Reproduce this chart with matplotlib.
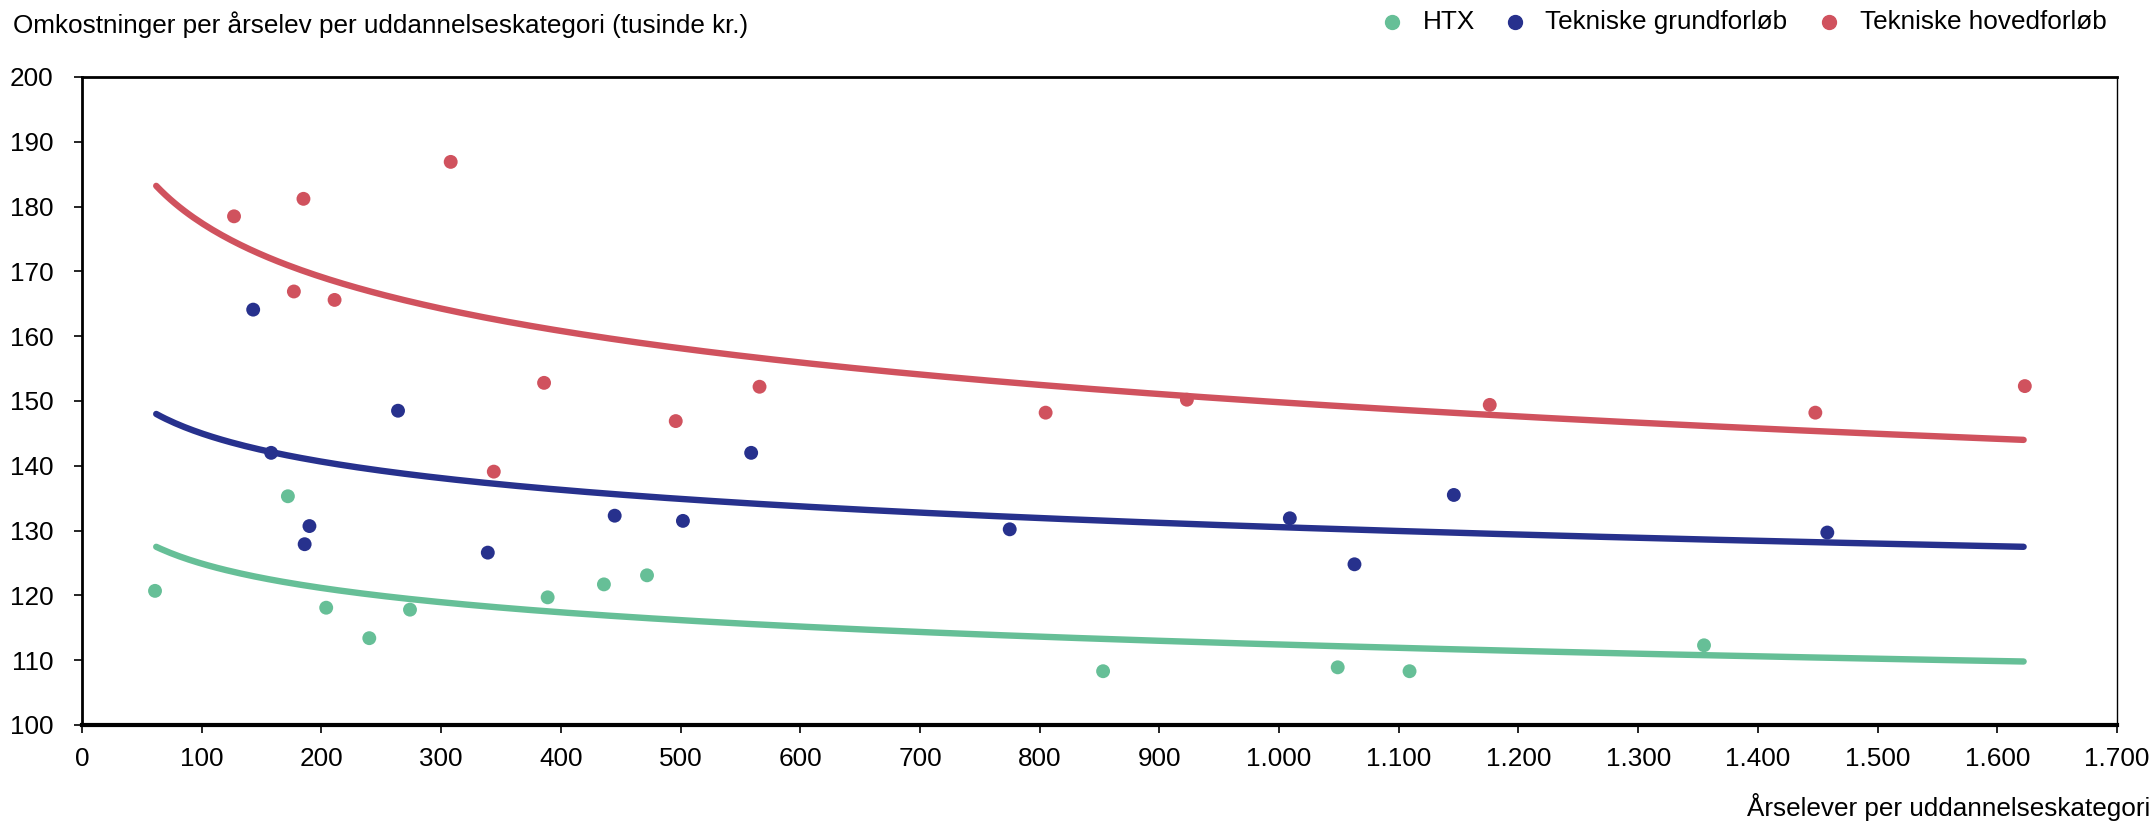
import numpy as np
import matplotlib
matplotlib.use("Agg")
import matplotlib.pyplot as plt
from matplotlib.ticker import FuncFormatter, MultipleLocator

plt.rcParams['font.family'] = ['Liberation Sans', 'DejaVu Sans']

# ---- data ----
series_names = ["HTX", "Tekniske grundforløb", "Tekniske hovedforløb"]
colors = ["#66BF97", "#27318D", "#D0525E"]

htx_x = [61, 172, 204, 240, 274, 389, 436, 472, 853, 1049, 1109, 1355]
htx_y = [120.7, 135.3, 118.1, 113.4, 117.8, 119.7, 121.7, 123.1, 108.3, 108.9, 108.3, 112.3]

grund_x = [143, 158, 186, 190, 264, 339, 445, 502, 559, 775, 1009, 1063, 1146, 1458]
grund_y = [164.1, 142.0, 127.9, 130.7, 148.5, 126.6, 132.3, 131.5, 142.0, 130.2, 131.9, 124.8, 135.5, 129.7]

hoved_x = [127, 177, 185, 211, 308, 344, 386, 496, 566, 805, 923, 1176, 1448, 1623]
hoved_y = [178.5, 166.9, 181.2, 165.6, 186.9, 139.1, 152.8, 146.9, 152.2, 148.2, 150.2, 149.4, 148.2, 152.3]

# logarithmic trend lines: value at start and end of range
trend_start = [127.5, 148.0, 183.2]   # value at x = 62
trend_end = [109.8, 127.5, 144.0]     # value at x = 1622
trend_x_range = [62, 1622]

xs = [htx_x, grund_x, hoved_x]
ys = [htx_y, grund_y, hoved_y]

FS = 18.8

fig = plt.figure(figsize=(21.52, 8.23), dpi=100)
ax = fig.add_axes([82/2152, 1-725/823, (2117-82)/2152, (725-77)/823])

xx = np.linspace(trend_x_range[0], trend_x_range[1], 400)
for i in range(3):
    x0, x1 = trend_x_range
    b = (trend_end[i] - trend_start[i]) / np.log(x1 / x0)
    yy = trend_start[i] + b * np.log(xx / x0)
    ax.plot(xx, yy, color=colors[i], lw=4.6, solid_capstyle='round', zorder=2)

for i in range(3):
    ax.scatter(xs[i], ys[i], s=100, color=colors[i], edgecolors='none', zorder=3)

ax.set_xlim(0, 1700)
ax.set_ylim(100, 200)
ax.xaxis.set_major_locator(MultipleLocator(100))
ax.yaxis.set_major_locator(MultipleLocator(10))
ax.xaxis.set_major_formatter(FuncFormatter(lambda v, p: f"{int(v):,}".replace(",", ".")))

ax.tick_params(axis='both', direction='out', length=5.5, width=1.2, labelsize=FS, colors='black')
ax.tick_params(axis='x', pad=10.5)
ax.tick_params(axis='y', pad=15)

ax.spines['bottom'].set_linewidth(3)
ax.spines['left'].set_linewidth(2)
ax.spines['top'].set_linewidth(2)
ax.spines['right'].set_linewidth(1)
for s in ax.spines.values():
    s.set_color('black')

fig.text(13/2152, 1-33/823, "Omkostninger per årselev per uddannelseskategori (tusinde kr.)",
         fontsize=FS, ha='left', va='baseline')
fig.text(2150/2152, 1-816/823, "Årselever per uddannelseskategori",
         fontsize=FS, ha='right', va='baseline')

# legend
leg_marker_x = [1392, 1515, 1829]
leg_text_x = [1423, 1545, 1860]
for i in range(3):
    fig.lines.append(plt.Line2D([leg_marker_x[i]/2152], [1-22/823], marker='o', ms=10,
                                color=colors[i], ls='none', transform=fig.transFigure))
    fig.text(leg_text_x[i]/2152, 1-22/823, series_names[i], fontsize=FS,
             ha='left', va='center')

fig.savefig("out.png", dpi=100)
